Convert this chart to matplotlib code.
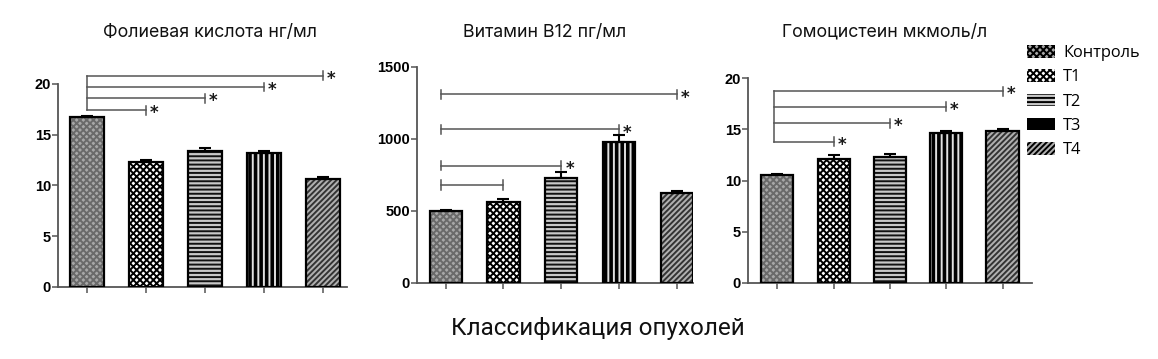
import matplotlib
matplotlib.use("Agg")
import matplotlib.pyplot as plt
from matplotlib.patches import Patch

groups = ["Контроль", "T1", "T2", "T3", "T4"]

folate = [16.7, 12.3, 13.4, 13.2, 10.6]
folate_err = [0.15, 0.2, 0.3, 0.15, 0.25]
folate_sig = [(1, 17.4, True), (2, 18.6, True), (3, 19.7, True), (4, 20.8, True)]

b12 = [500, 560, 730, 980, 625]
b12_err = [8, 20, 40, 50, 14]
b12_sig = [(1, 680, False), (2, 815, True), (3, 1067, True), (4, 1310, True)]

hcy = [10.5, 12.05, 12.3, 14.6, 14.8]
hcy_err = [0.15, 0.45, 0.3, 0.2, 0.25]
hcy_sig = [(1, 13.8, True), (2, 15.6, True), (3, 17.2, True), (4, 18.7, True)]

titles = ["Фолиевая кислота нг/мл", "Витамин В12 пг/мл", "Гомоцистеин мкмоль/л"]

# face, hatch, hatch colour per group
styles = [
    ("#a8a8a8", "xxxxx", "#6a6a6a"),
    ("white", "xxxxx", "black"),
    ("#c8c8c8", "----", "#111111"),
    ("black", "|||", "#e0e0e0"),
    ("#b0b0b0", "//////", "#333333"),
]

plt.rcParams["hatch.linewidth"] = 1.4
axcol = "#555555"

fig = plt.figure(figsize=(11.58, 3.59), dpi=100)

panels = [
    ([0.050, 0.2006, 0.2496, 0.5655], folate, folate_err, folate_sig, (0, 20), [0, 5, 10, 15, 20], (-0.49, 4.41), 0.58, True, 0.0),
    ([0.360, 0.2117, 0.2383, 0.6017], b12, b12_err, b12_sig, (0, 1500), [0, 500, 1000, 1500], (-0.50, 4.28), 0.56, False, -0.09),
    ([0.646, 0.2117, 0.2450, 0.5710], hcy, hcy_err, hcy_sig, (0, 20), [0, 5, 10, 15, 20], (-0.52, 4.52), 0.57, True, -0.06),
]

for (rect, vals, errs, sigs, ylim, yt, xlim, bw, joined, xoff) in panels:
    ax = fig.add_axes(rect)
    x = range(len(vals))
    for i, v in enumerate(vals):
        face, hatch, hc = styles[i]
        ax.bar(i, v, width=bw, color=face, hatch=hatch, edgecolor=hc, linewidth=0, zorder=2)
        ax.bar(i, v, width=bw, fill=False, edgecolor="black", linewidth=1.6, zorder=3)
    ax.errorbar(list(x), vals, yerr=[[0] * len(vals), errs], fmt="none",
                ecolor="black", elinewidth=1.5, capsize=4, capthick=1.5, zorder=4)
    ax.set_xlim(*xlim)
    ax.set_ylim(*ylim)
    ax.set_yticks(yt)
    ax.set_xticks(list(x))
    ax.set_xticklabels([])
    for s in ["top", "right"]:
        ax.spines[s].set_visible(False)
    for s in ["left", "bottom"]:
        ax.spines[s].set_color(axcol)
        ax.spines[s].set_linewidth(1.3)
    ax.tick_params(axis="both", colors=axcol, width=1.1, length=4)
    ax.tick_params(axis="y", labelcolor="black", labelsize=10.5, pad=1)
    for lab in ax.get_yticklabels():
        lab.set_fontweight("bold")
        lab.set_family("Liberation Sans")

    # significance brackets
    span = ylim[1] - ylim[0]
    tick_h = span * 0.022
    levels = [lv for _, lv, _ in sigs]
    x0 = xoff
    if joined:
        ax.plot([x0, x0], [min(levels), max(levels)], color=axcol, lw=1.1, clip_on=False)
    for end, lv, star in sigs:
        ax.plot([x0, end], [lv, lv], color=axcol, lw=1.1, clip_on=False)
        ax.plot([end, end], [lv - tick_h, lv + tick_h], color=axcol, lw=1.1, clip_on=False)
        if not joined:
            ax.plot([x0, x0], [lv - tick_h, lv + tick_h], color=axcol, lw=1.1, clip_on=False)
        if star:
            ax.text(end + 0.07, lv - span * 0.015, "*", fontsize=12, color="#1a1a1a",
                    ha="left", va="center", fontweight="bold", clip_on=False)

title_x = [0.181, 0.4706, 0.764]
for tx, t in zip(title_x, titles):
    fig.text(tx, 0.91, t, ha="center", va="center", fontsize=12.8, family="Inter", color="#111111")

fig.text(0.516, 0.086, "Классификация опухолей", ha="center", va="center",
         fontsize=17.5, family="Roboto", color="#111111")

handles = [Patch(facecolor=f, hatch=h, edgecolor=c, linewidth=0) for f, h, c in styles]
leg = fig.legend(handles, groups, loc="upper left", bbox_to_anchor=(0.874, 0.915),
                 frameon=False, handlelength=1.7, handleheight=0.8,
                 labelspacing=0.5, handletextpad=0.5, prop={"family": "Open Sans", "size": 11.8})
for p in leg.get_patches():
    p.set_edgecolor("black")

fig.savefig("out.png", dpi=100)
